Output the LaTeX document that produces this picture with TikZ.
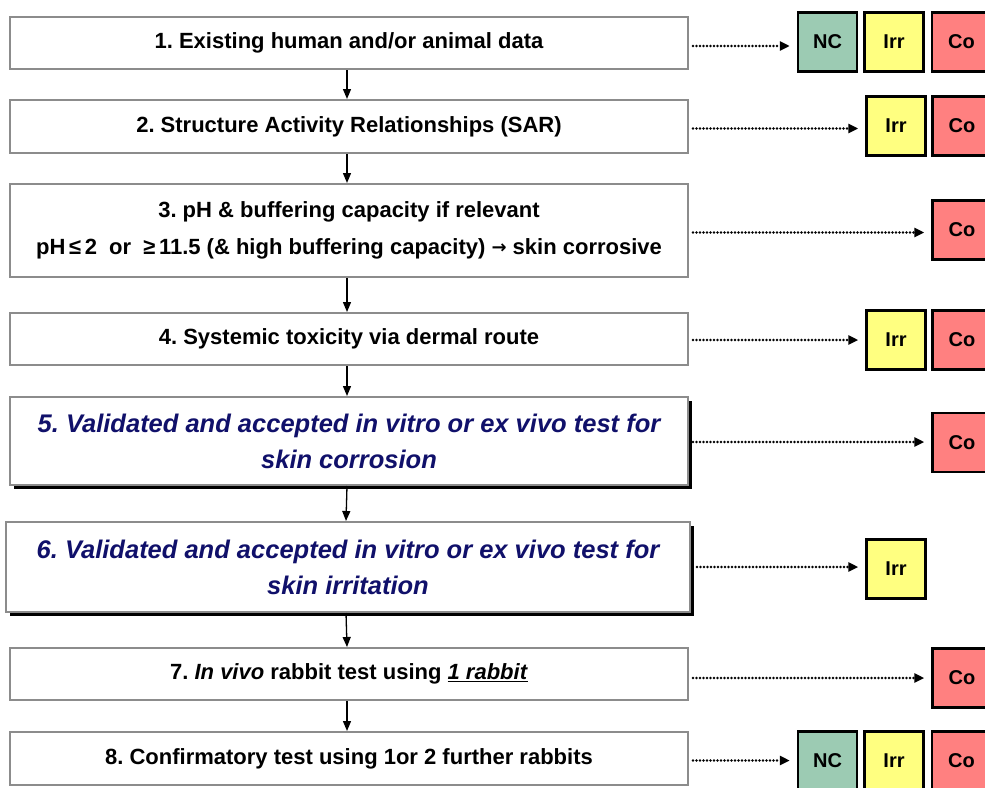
\documentclass[tikz,border=0pt]{standalone}
\usepackage{fontspec}
\setmainfont{Liberation Sans}
\newfontfamily\arrowfont{DejaVu Sans}
\usetikzlibrary{arrows.meta,shadows}
\definecolor{ncgreen}{HTML}{9CCBB3}
\definecolor{irryellow}{HTML}{FFFF80}
\definecolor{cored}{HTML}{FF8080}
\definecolor{navy}{HTML}{10106A}
\definecolor{boxgray}{HTML}{8C8C8C}
\tikzset{
  stepbox/.style={draw=boxgray, line width=2pt, fill=white, minimum width=678pt, inner sep=0pt, align=center, font=\fontsize{22}{37}\selectfont\bfseries\frenchspacing},
  shadowbox/.style={stepbox, drop shadow={shadow xshift=4pt, shadow yshift=-4pt, fill=black, opacity=1}, font=\fontsize{25.5}{36}\selectfont\bfseries\itshape\frenchspacing, text=navy},
  sq/.style={draw=black, line width=2.5pt, minimum size=59pt, inner sep=0pt, font=\fontsize{20}{20}\selectfont\bfseries},
  nc/.style={sq, fill=ncgreen},
  irr/.style={sq, fill=irryellow},
  co/.style={sq, fill=cored},
  flow/.style={-{Triangle[length=10pt,width=8pt]}, line width=1.3pt},
  dotarrow/.style={-{Triangle[length=10pt,width=9pt]}, line width=2.6pt, line cap=round, dash pattern=on 0pt off 3.5pt, shorten <=4pt, shorten >=7pt}
}
\begin{document}
\begin{tikzpicture}[x=1pt,y=-1pt]
\useasboundingbox (0,0) rectangle (985,787);
% left boxes
\node[stepbox, minimum height=52pt] (b1) at (349,43) {1. Existing human and/or animal data};
\node[stepbox, minimum height=53pt] (b2) at (349,126.5) {2. Structure Activity Relationships (SAR)};
\node[stepbox, minimum height=93pt] (b3) at (349,230.5) {3. pH \& buffering capacity if relevant\\pH\,≤\,2\hspace{0.55em}or\hspace{0.55em}≥\,11.5 (\& high buffering capacity) {\arrowfont\fontsize{18}{18}\selectfont\raisebox{1pt}{→}} skin corrosive};
\node[stepbox, minimum height=52pt] (b4) at (349,339) {4. Systemic toxicity via dermal route};
\node[shadowbox, minimum height=88pt] (b5) at (349,441) {5. Validated and accepted in vitro or ex vivo test for\\skin corrosion};
\node[shadowbox, minimum height=90pt, minimum width=684pt] (b6) at (348,567) {6. Validated and accepted in vitro or ex vivo test for\\skin irritation};
\node[stepbox, minimum height=52pt] (b7) at (349,674) {7. \textit{In vivo} rabbit test using \underline{\textit{1 rabbit}}};
\node[stepbox, minimum height=53pt] (b8) at (349,758.5) {8. Confirmatory test using 1or 2 further rabbits};
% flow arrows
\foreach \a/\b in {b1/b2,b2/b3,b3/b4,b4/b5,b5/b6,b6/b7,b7/b8}
  \draw[flow] ([xshift=-2pt]\a.south) -- ([xshift=-2pt]\b.north);
% outcome squares
\node[nc] (nc1) at (827.5,42) {NC};
\node[irr] (irr1) at (894,42) {Irr};
\node[co] (co1) at (961.5,42) {Co};
\node[irr] (irr2) at (896,126) {Irr};
\node[co] (co2) at (962,126) {Co};
\node[co] (co3) at (962,230) {Co};
\node[irr] (irr4) at (896,340) {Irr};
\node[co] (co4) at (962,340) {Co};
\node[co] (co5) at (962,442.5) {Co};
\node[irr] (irr6) at (896,569) {Irr};
\node[co] (co7) at (962,678) {Co};
\node[nc] (nc8) at (827.5,761) {NC};
\node[irr] (irr8) at (894,761) {Irr};
\node[co] (co8) at (961.5,761) {Co};
% dotted arrows
\draw[dotarrow] ([yshift=-3pt]b1.east) -- ([yshift=-3pt]b1.east -| nc1.west);
\draw[dotarrow] ([yshift=-2pt]b2.east) -- ([yshift=-2pt]b2.east -| irr2.west);
\draw[dotarrow] ([yshift=-2pt]b3.east) -- ([yshift=-2pt]b3.east -| co3.west);
\draw[dotarrow] ([yshift=-1pt]b4.east) -- ([yshift=-1pt]b4.east -| irr4.west);
\draw[dotarrow] ([yshift=-1pt]b5.east) -- ([yshift=-1pt]b5.east -| co5.west);
\draw[dotarrow] ([xshift=2pt]b6.east) -- (b6.east -| irr6.west);
\draw[dotarrow] ([yshift=-4pt]b7.east) -- ([yshift=-4pt]b7.east -| co7.west);
\draw[dotarrow] ([yshift=-2pt]b8.east) -- ([yshift=-2pt]b8.east -| nc8.west);
\end{tikzpicture}
\end{document}
